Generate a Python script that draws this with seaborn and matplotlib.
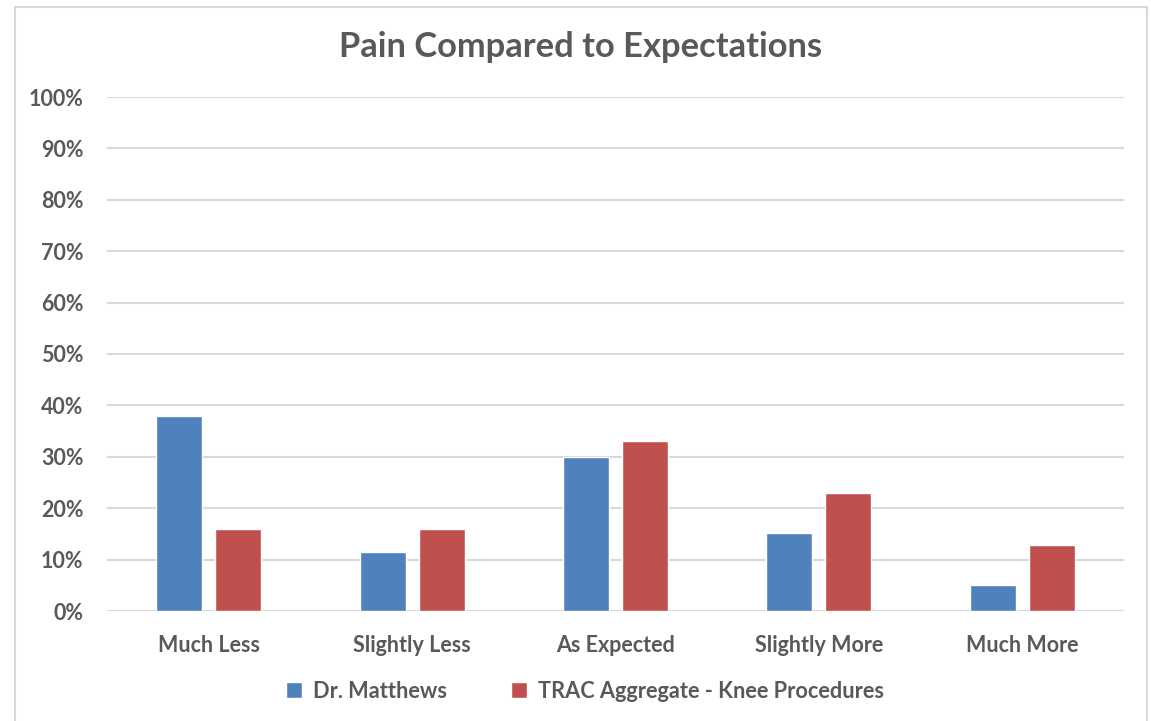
import matplotlib
matplotlib.use("Agg")
import matplotlib.pyplot as plt
import seaborn as sns
import pandas as pd
from matplotlib.patches import Rectangle
from matplotlib.ticker import PercentFormatter, MultipleLocator

categories = ["Much Less", "Slightly Less", "As Expected", "Slightly More", "Much More"]
series_names = ["Dr. Matthews", "TRAC Aggregate - Knee Procedures"]
dr_matthews = [0.38, 0.115, 0.30, 0.152, 0.05]
trac_aggregate = [0.16, 0.16, 0.331, 0.23, 0.129]
colors = ["#4F81BD", "#C0504D"]

rows = []
for c, a, b in zip(categories, dr_matthews, trac_aggregate):
    rows.append({"Category": c, "Series": series_names[0], "Value": a})
    rows.append({"Category": c, "Series": series_names[1], "Value": b})
df = pd.DataFrame(rows)

sns.set_theme(style="white")
plt.rcParams["font.family"] = ["Lato", "DejaVu Sans"]

W, H = 1151, 721
fig = plt.figure(figsize=(W / 100, H / 100), dpi=100)
ax = fig.add_axes([107 / W, 1 - 611 / H, (1124 - 107) / W, (611 - 97) / H])

sns.barplot(data=df, x="Category", y="Value", hue="Series", order=categories,
            hue_order=series_names, palette=colors, width=0.58, gap=0.22,
            saturation=1, ax=ax, legend=True, zorder=3)

ax.set_ylim(0, 1)
ax.set_xlim(-0.5, 4.5)
ax.yaxis.set_major_locator(MultipleLocator(0.1))
ax.yaxis.set_major_formatter(PercentFormatter(1.0, decimals=0))
ax.grid(axis="y", color="#d9d9d9", linewidth=1.5, zorder=0)
ax.set_axisbelow(True)
for s in ax.spines.values():
    s.set_visible(False)
ax.set_xlabel("")
ax.set_ylabel("")
ax.tick_params(axis="both", length=0, colors="#595959")
ax.tick_params(axis="y", pad=17, labelsize=15.5)
ax.tick_params(axis="x", pad=17, labelsize=15.5)
for lab in ax.get_xticklabels() + ax.get_yticklabels():
    lab.set_fontweight("bold")
    lab.set_color("#595959")

leg = ax.get_legend()
handles, labels = ax.get_legend_handles_labels()
leg.remove()
fig.legend(handles, labels, loc="center", bbox_to_anchor=(585 / W, 1 - 691 / H),
           ncol=2, frameon=False, handlelength=0.75, handleheight=0.75,
           handletextpad=0.5, columnspacing=2.9,
           prop={"weight": "bold", "size": 15.7})
for t in fig.legends[0].get_texts():
    t.set_color("#595959")

fig.text(581 / W, 1 - 47 / H, "Pain Compared to Expectations", ha="center", va="center",
         fontsize=24.8, fontweight="bold", color="#595959")

fig.patches.append(Rectangle((15 / W, -0.05), (1147 - 15) / W, 1.05 - 7 / H,
                             transform=fig.transFigure, fill=False,
                             edgecolor="#d9d9d9", linewidth=1.5))

fig.savefig("out.png", dpi=100, facecolor="white")
